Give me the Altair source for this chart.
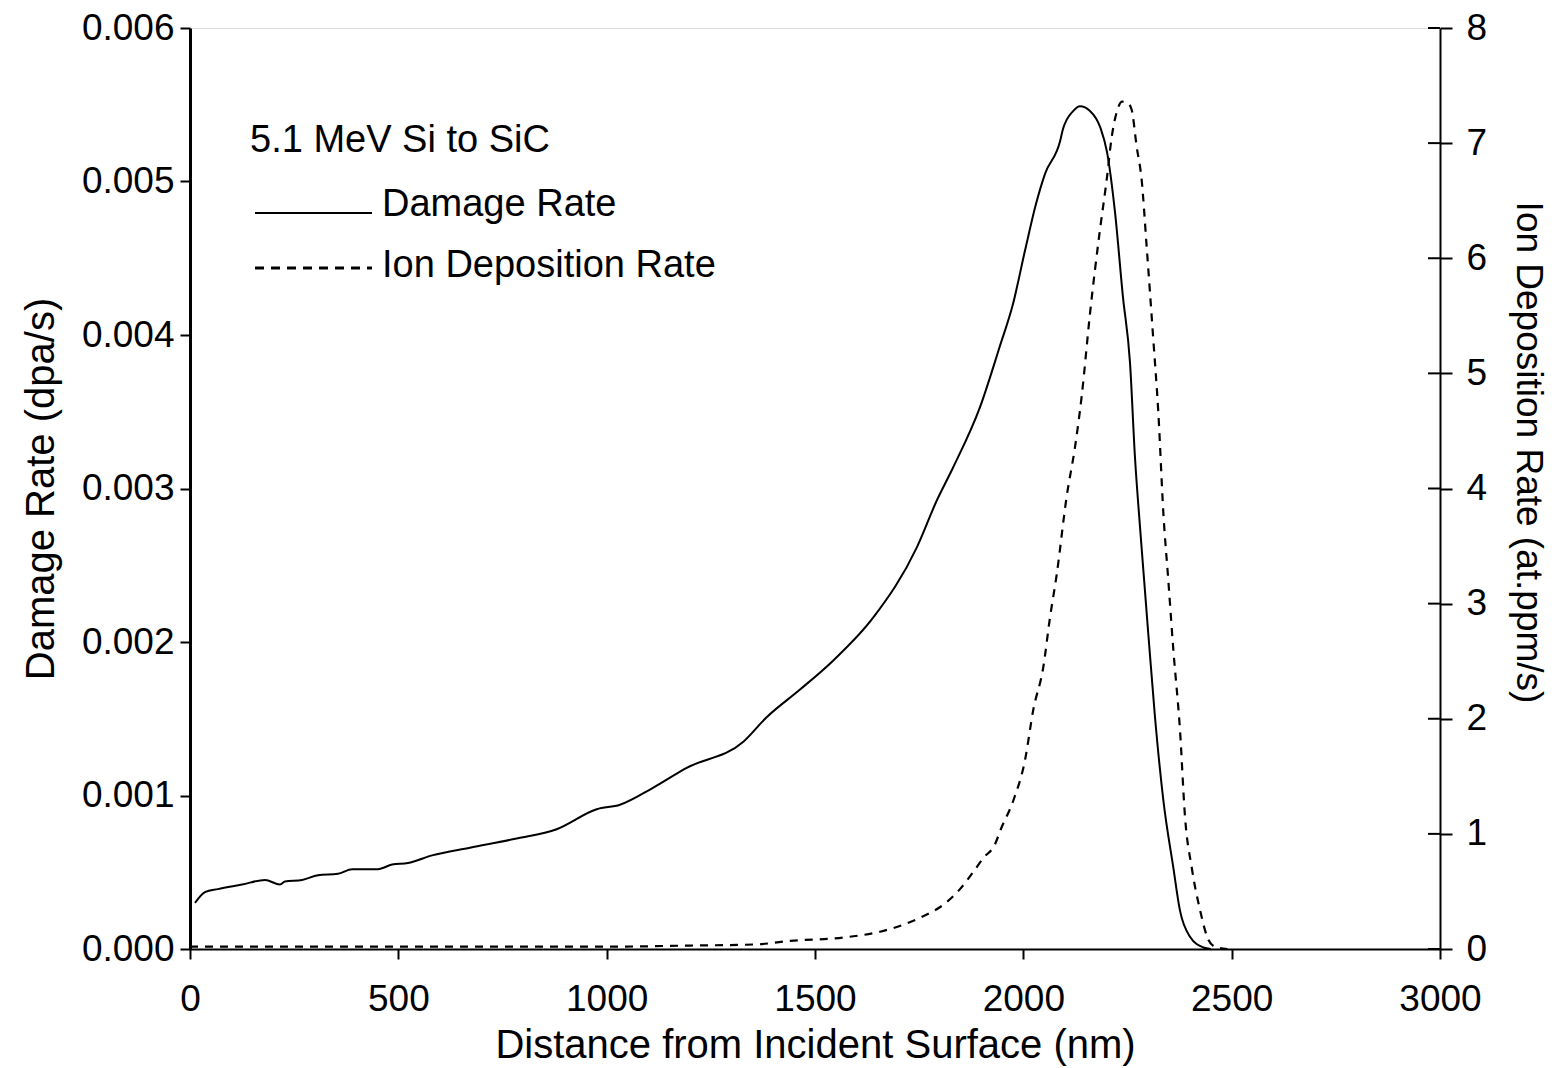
import altair as alt
import pandas as pd

# Damage rate (left axis)
damage_nm = [12, 36, 67, 125, 180, 216, 228, 269, 307, 355, 389, 451, 485, 523, 581,
             672, 784, 880, 976, 1032, 1111, 1192, 1328, 1384, 1464, 1544, 1640, 1745,
             1792, 1832, 1896, 1944, 1975, 2004, 2030, 2052, 2088, 2095, 2120, 2136, 2160,
             2185, 2201, 2220, 2239, 2256, 2268, 2280, 2290, 2300, 2316, 2336, 2360, 2376,
             2400, 2432, 2450]
damage_rate = [0.00030, 0.00037, 0.00039, 0.00042, 0.00045, 0.00042, 0.00044, 0.00045,
               0.00048, 0.00049, 0.00052, 0.00052, 0.00055, 0.00056, 0.00061, 0.00066,
               0.00072, 0.00078, 0.00091, 0.00094, 0.00105, 0.00118, 0.00135, 0.00151,
               0.00169, 0.00188, 0.00216, 0.00262, 0.00292, 0.00314, 0.00353, 0.00393,
               0.00420, 0.00455, 0.00485, 0.00505, 0.00526, 0.00534, 0.00546, 0.00549,
               0.00546, 0.00535, 0.00519, 0.00480, 0.00425, 0.00382, 0.00320, 0.00275,
               0.00240, 0.00205, 0.00151, 0.00097, 0.00053, 0.00025, 0.00008, 0.00001, 0.0]

# Ion deposition rate (right axis)
ion_nm = [0, 500, 1000, 1200, 1360, 1440, 1568, 1656, 1745, 1817, 1848, 1880, 1904,
          1932, 1946, 1976, 2004, 2024, 2048, 2064, 2080, 2104, 2124, 2140, 2160, 2184,
          2200, 2212, 2225, 2237, 2250, 2260, 2272, 2284, 2296, 2312, 2324, 2336, 2348,
          2360, 2376, 2388, 2404, 2424, 2444, 2460, 2490]
ion_rate = [0.02, 0.02, 0.02, 0.03, 0.04, 0.07, 0.10, 0.15, 0.26, 0.41, 0.52, 0.67, 0.79,
            0.91, 1.04, 1.29, 1.64, 2.08, 2.45, 2.88, 3.25, 3.93, 4.36, 4.80, 5.52, 6.25,
            6.68, 7.05, 7.28, 7.36, 7.35, 7.29, 6.97, 6.68, 6.10, 5.29, 4.66, 3.79, 3.20,
            2.60, 1.90, 1.15, 0.71, 0.34, 0.08, 0.02, 0.0]

x_ticks = [0, 500, 1000, 1500, 2000, 2500, 3000]
left_ticks = [0.0, 0.001, 0.002, 0.003, 0.004, 0.005, 0.006]
right_ticks = [0, 1, 2, 3, 4, 5, 6, 7, 8]

legend_title = "5.1 MeV Si to SiC"
legend_labels = ["Damage Rate", "Ion Deposition Rate"]

FONT = "Liberation Sans"

damage_df = pd.DataFrame({"nm": damage_nm, "rate": damage_rate})
ion_df = pd.DataFrame({"nm": ion_nm, "rate": ion_rate})
rtick_df = pd.DataFrame({"v": right_ticks})

xscale = alt.Scale(domain=[0, 3000], nice=False, zero=False)
xaxis = alt.Axis(values=x_ticks, format="d", title="Distance from Incident Surface (nm)",
                 grid=False, labelFontSize=37, titleFontSize=40, tickSize=10,
                 labelPadding=22, titlePadding=8, domainWidth=2, tickWidth=2,
                 labelFont=FONT, titleFont=FONT, titleFontWeight="normal",
                 labelColor="black", titleColor="black", domainColor="black",
                 tickColor="black", labelFlush=False)

damage = alt.Chart(damage_df).mark_line(color="black", strokeWidth=2, interpolate="monotone").encode(
    x=alt.X("nm:Q", scale=xscale, axis=xaxis),
    y=alt.Y("rate:Q", scale=alt.Scale(domain=[0, 0.006], nice=False),
            axis=alt.Axis(values=left_ticks, format=".3f", title="Damage Rate (dpa/s)",
                          grid=False, labelFontSize=37, titleFontSize=40, tickSize=10,
                          labelPadding=6, titlePadding=20, domainWidth=3, tickWidth=2,
                          labelFont=FONT, titleFont=FONT, titleFontWeight="normal",
                          labelColor="black", titleColor="black", domainColor="black",
                          tickColor="black", labelFlush=False)),
)

ion = alt.Chart(ion_df).mark_line(color="black", strokeWidth=2.2, strokeDash=[8, 7],
                                  interpolate="monotone").encode(
    x=alt.X("nm:Q", scale=xscale),
    y=alt.Y("rate:Q", scale=alt.Scale(domain=[0, 8], nice=False),
            axis=alt.Axis(orient="right", values=right_ticks, format="d",
                          title="Ion Deposition Rate (at.ppm/s)", grid=False,
                          labelFontSize=37, titleFontSize=37, tickSize=12,
                          labelPadding=14, titlePadding=22, titleY=424,
                          domainWidth=2, tickWidth=2,
                          labelFont=FONT, titleFont=FONT, titleFontWeight="normal",
                          labelColor="black", titleColor="black", domainColor="black",
                          tickColor="black", labelFlush=False)),
)

# inner half of right-axis ticks (they cross the axis)
inner_ticks = alt.Chart(rtick_df).mark_rule(color="black", strokeWidth=2).encode(
    y=alt.Y("v:Q", scale=alt.Scale(domain=[0, 8], nice=False), axis=None),
    x=alt.value(1238),
    x2=alt.value(1250),
)

title_txt = alt.Chart(pd.DataFrame({"t": [legend_title]})).mark_text(
    align="left", baseline="middle", fontSize=38, font=FONT, color="black").encode(
    text="t:N", x=alt.value(60), y=alt.value(113))
lab1 = alt.Chart(pd.DataFrame({"t": [legend_labels[0]]})).mark_text(
    align="left", baseline="middle", fontSize=38, font=FONT, color="black").encode(
    text="t:N", x=alt.value(192), y=alt.value(177))
lab2 = alt.Chart(pd.DataFrame({"t": [legend_labels[1]]})).mark_text(
    align="left", baseline="middle", fontSize=38, font=FONT, color="black").encode(
    text="t:N", x=alt.value(192), y=alt.value(238))
sw1 = alt.Chart(pd.DataFrame({"t": [legend_labels[0]]})).mark_rule(
    color="black", strokeWidth=2).encode(
    x=alt.value(65), x2=alt.value(182), y=alt.value(185))
sw2 = alt.Chart(pd.DataFrame({"t": [legend_labels[1]]})).mark_rule(
    color="black", strokeWidth=3, strokeDash=[9, 7]).encode(
    x=alt.value(65), x2=alt.value(182), y=alt.value(240))

chart = alt.layer(damage, ion, inner_ticks, title_txt, lab1, lab2, sw1, sw2).resolve_scale(
    y="independent"
).properties(
    width=1250, height=921,
    autosize=alt.AutoSizeParams(type="none"),
    padding={"left": 182, "top": 20, "right": 112, "bottom": 130},
).configure_view(stroke="black", strokeWidth=1.5).configure(background="white")

chart.save("out.html", embed_options={"renderer": "svg", "actions": False})
